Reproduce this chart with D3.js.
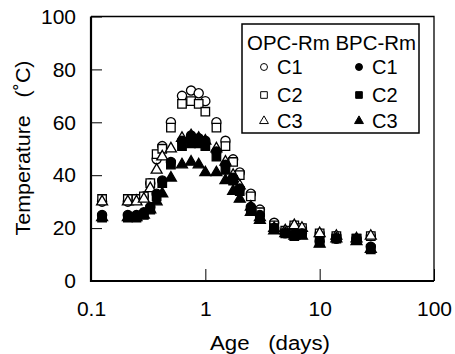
<!DOCTYPE html>
<html><head><meta charset="utf-8">
<script src="https://cdn.jsdelivr.net/npm/d3@7"></script>
<style>body{margin:0;background:#fff}svg{display:block}text{font-family:"Liberation Sans",Arial,sans-serif;fill:#000}</style>
</head><body><svg id="c" width="455" height="354"></svg>
<script>
const ages = [0.125,0.21,0.25,0.29,0.33,0.375,0.42,0.5,0.625,0.75,0.875,1.0,1.25,1.5,1.75,2.0,2.5,3,4,5,6,7,10,14,21,28];
const opcC1 = [30,30,31,32,37,46,51,60,70,72,71,68,60,53,46,41,33,27,22,19,21,20,18,17,16,17];
const opcC2 = [31,31,31,32,37,48,50,58,67,68,67,64,58,51,45,40,32,26,21,19,21,20,18,17,16,17];
const opcC3 = [30,30,30,31,35,42,47,50,54,55,54,53,50,45,40,36,28,24,20,19,21,20,18,17,16,17];
const bpcC1 = [25,25,25,26,28,33,38,45,53,55,54,53,49,44,39,35,28,25,20,18,18,18,15,16,16,13];
const bpcC2 = [24,24,24,25,27,32,37,44,51,52,52,51,47,42,38,34,27,24,20,18,17,18,15,16,16,12];
const bpcC3 = [24,24,24,25,27,30,33,39,44,45,44,41,41,38,34,31,26,23,19,18,17,17,14,16,15,12];
const xTicks = [0.1,1,10,100];
const yTicks = [0,20,40,60,80,100];
const seriesNames = ["OPC-Rm C1","OPC-Rm C2","OPC-Rm C3","BPC-Rm C1","BPC-Rm C2","BPC-Rm C3"];
const legendHeaders = ["OPC-Rm","BPC-Rm"];
const legendLabels = ["C1","C2","C3"];

const series = [
  {name:seriesNames[0], v:opcC1, shape:d3.symbolCircle, fill:"#fff"},
  {name:seriesNames[1], v:opcC2, shape:d3.symbolSquare, fill:"#fff"},
  {name:seriesNames[2], v:opcC3, shape:d3.symbolTriangle, fill:"#fff"},
  {name:seriesNames[3], v:bpcC1, shape:d3.symbolCircle, fill:"#000"},
  {name:seriesNames[4], v:bpcC2, shape:d3.symbolSquare, fill:"#000"},
  {name:seriesNames[5], v:bpcC3, shape:d3.symbolTriangle, fill:"#000"}
];
const sizes = new Map([[d3.symbolCircle,66],[d3.symbolSquare,72],[d3.symbolTriangle,52]]);
const lsizes = new Map([[d3.symbolCircle,38],[d3.symbolSquare,44],[d3.symbolTriangle,34]]);

const svg = d3.select("#c");
const L=91, R=434, T=16.5, B=281;
const x = d3.scaleLog().domain([0.1,100]).range([L,R]);
const y = d3.scaleLinear().domain([0,100]).range([B,T]);

const yAx = svg.append("g").attr("transform",`translate(${L},0)`)
  .call(d3.axisLeft(y).tickValues(yTicks).tickSizeInner(-11).tickSizeOuter(0).tickPadding(15).tickFormat(d3.format("d")));
yAx.select(".domain").remove();
yAx.selectAll("line").attr("stroke","#000").attr("stroke-width",1);
yAx.selectAll("text").attr("font-size",21).attr("font-family","Liberation Sans, Arial, sans-serif");

const xAx = svg.append("g").attr("transform",`translate(0,${B})`)
  .call(d3.axisBottom(x).tickValues(xTicks).tickSizeInner(-12).tickSizeOuter(0).tickPadding(20).tickFormat(d=>String(d)));
xAx.select(".domain").remove();
xAx.selectAll("line").attr("stroke","#000").attr("stroke-width",1);
xAx.selectAll("text").attr("font-size",21).attr("font-family","Liberation Sans, Arial, sans-serif");

// frame
svg.append("path").attr("d",`M${L},${T}H${R}V${B}`).attr("fill","none").attr("stroke","#000").attr("stroke-width",1.3);
svg.append("path").attr("d",`M${L},${T}V${B}H${R}`).attr("fill","none").attr("stroke","#000").attr("stroke-width",2.2);

// points
series.forEach(s=>{
  svg.append("g").selectAll("path").data(ages.map((a,i)=>({a,v:s.v[i]})).filter(d=>d.v!=null))
    .join("path")
    .attr("transform",d=>`translate(${x(d.a)},${y(d.v)})`)
    .attr("d",d3.symbol().type(s.shape).size(sizes.get(s.shape)))
    .attr("fill",s.fill).attr("stroke","#000").attr("stroke-width",1.3);
});

// legend
const lg = svg.append("g");
lg.append("rect").attr("x",242).attr("y",24).attr("width",177).attr("height",109).attr("fill","#fff").attr("stroke","#000").attr("stroke-width",1.5);
lg.append("text").attr("x",247).attr("y",50).attr("font-size",20).attr("textLength",169).attr("lengthAdjust","spacingAndGlyphs").text(legendHeaders[0]+" "+legendHeaders[1]);
const rowsY=[67,95,121];
series.forEach((s,i)=>{
  const col=Math.floor(i/3), row=i%3;
  const sx = col===0?264:359;
  lg.append("path").attr("transform",`translate(${sx},${rowsY[row]})`)
    .attr("d",d3.symbol().type(s.shape).size(lsizes.get(s.shape)))
    .attr("fill",s.fill).attr("stroke","#000").attr("stroke-width",1);
  lg.append("text").attr("x",sx+13).attr("y",rowsY[row]+7).attr("font-size",20).text(legendLabels[row]);
});

// axis titles
svg.append("text").attr("x",270).attr("y",350).attr("text-anchor","middle").attr("font-size",19.5)
  .attr("textLength",120).attr("lengthAdjust","spacingAndGlyphs").attr("xml:space","preserve").text("Age   (days)");
svg.append("text").attr("transform","translate(30,148) rotate(-90)").attr("text-anchor","middle").attr("font-size",19.5)
  .attr("textLength",175).attr("lengthAdjust","spacingAndGlyphs").attr("xml:space","preserve").text("Temperature   (˚C)");
</script></body></html>
